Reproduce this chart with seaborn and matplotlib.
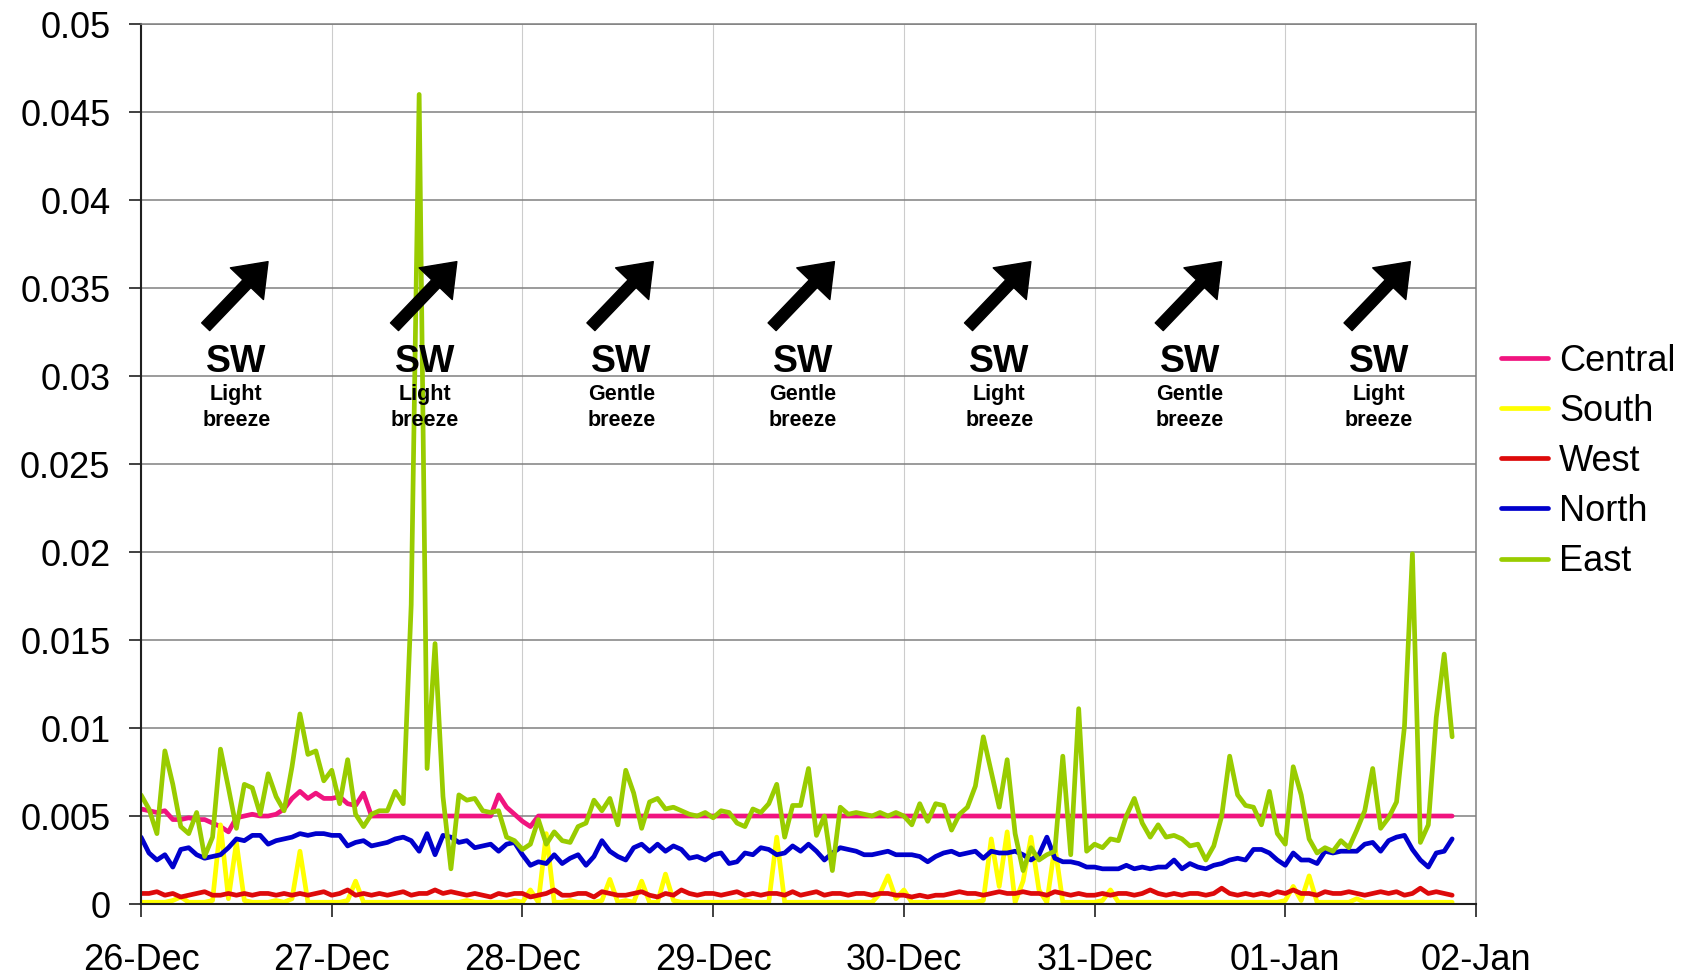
import numpy as np
import pandas as pd
import matplotlib
matplotlib.use("Agg")
import matplotlib.pyplot as plt
import matplotlib.dates as mdates
from matplotlib.lines import Line2D
import seaborn as sns

# hourly readings from 26-Dec 00:00, values in units of 0.001
central = [
    5.4, 5.3, 5.2, 5.3, 4.8, 4.8, 4.9, 4.8, 4.8, 4.6, 4.4, 4.1, 4.9, 5.0, 5.1, 5.0, 5.0, 5.1, 5.4, 6.0, 6.4, 6.0, 6.3, 6.0,
    6.0, 6.1, 5.7, 5.6, 6.3, 5.0, 5.0, 5.0, 5.0, 5.0, 5.0, 5.0, 5.0, 5.0, 5.0, 5.0, 5.0, 5.0, 5.0, 5.0, 5.0, 6.2, 5.5, 5.1,
    4.7, 4.4, 5.0, 5.0, 5.0, 5.0, 5.0, 5.0, 5.0, 5.0, 5.0, 5.0, 5.0, 5.0, 5.0, 5.0, 5.0, 5.0, 5.0, 5.0, 5.0, 5.0, 5.0, 5.0,
    5.0, 5.0, 5.0, 5.0, 5.0, 5.0, 5.0, 5.0, 5.0, 5.0, 5.0, 5.0, 5.0, 5.0, 5.0, 5.0, 5.0, 5.0, 5.0, 5.0, 5.0, 5.0, 5.0, 5.0,
    5.0, 5.0, 5.0, 5.0, 5.0, 5.0, 5.0, 5.0, 5.0, 5.0, 5.0, 5.0, 5.0, 5.0, 5.0, 5.0, 5.0, 5.0, 5.0, 5.0, 5.0, 5.0, 5.0, 5.0,
    5.0, 5.0, 5.0, 5.0, 5.0, 5.0, 5.0, 5.0, 5.0, 5.0, 5.0, 5.0, 5.0, 5.0, 5.0, 5.0, 5.0, 5.0, 5.0, 5.0, 5.0, 5.0, 5.0, 5.0,
    5.0, 5.0, 5.0, 5.0, 5.0, 5.0, 5.0, 5.0, 5.0, 5.0, 5.0, 5.0, 5.0, 5.0, 5.0, 5.0, 5.0, 5.0, 5.0, 5.0, 5.0, 5.0,
]
south = [
    0.1, 0.1, 0.1, 0.1, 0.2, 0.4, 0.1, 0.1, 0.1, 0.2, 4.5, 0.3, 3.5, 0.2, 0.1, 0.1, 0.1, 0.2, 0.1, 0.3, 3.0, 0.1, 0.1, 0.1,
    0.1, 0.1, 0.2, 1.3, 0.1, 0.1, 0.1, 0.1, 0.1, 0.1, 0.1, 0.1, 0.1, 0.1, 0.1, 0.1, 0.1, 0.2, 0.1, 0.1, 0.1, 0.1, 0.1, 0.2,
    0.1, 0.8, 0.1, 4.0, 0.1, 0.1, 0.2, 0.1, 0.1, 0.1, 0.2, 1.4, 0.1, 0.2, 0.1, 1.3, 0.1, 0.1, 1.7, 0.2, 0.1, 0.1, 0.1, 0.1,
    0.1, 0.1, 0.1, 0.1, 0.2, 0.1, 0.1, 0.1, 3.8, 0.1, 0.1, 0.1, 0.1, 0.1, 0.1, 0.1, 0.1, 0.1, 0.1, 0.1, 0.1, 0.6, 1.6, 0.3,
    0.8, 0.1, 0.1, 0.1, 0.1, 0.1, 0.1, 0.1, 0.1, 0.1, 0.2, 3.7, 1.0, 4.1, 0.1, 1.3, 3.8, 0.8, 0.1, 3.3, 0.1, 0.1, 0.1, 0.1,
    0.1, 0.2, 0.8, 0.1, 0.1, 0.1, 0.1, 0.1, 0.1, 0.1, 0.1, 0.1, 0.1, 0.1, 0.1, 0.1, 0.1, 0.1, 0.1, 0.1, 0.1, 0.1, 0.1, 0.1,
    0.2, 1.0, 0.2, 1.6, 0.1, 0.1, 0.1, 0.1, 0.1, 0.3, 0.1, 0.1, 0.1, 0.1, 0.1, 0.1, 0.1, 0.1, 0.1, 0.1, 0.1, 0.1,
]
west = [
    0.6, 0.6, 0.7, 0.5, 0.6, 0.4, 0.5, 0.6, 0.7, 0.5, 0.5, 0.6, 0.5, 0.6, 0.5, 0.6, 0.6, 0.5, 0.6, 0.5, 0.6, 0.5, 0.6, 0.7,
    0.5, 0.6, 0.8, 0.5, 0.6, 0.5, 0.6, 0.5, 0.6, 0.7, 0.5, 0.6, 0.6, 0.8, 0.6, 0.7, 0.6, 0.5, 0.6, 0.5, 0.4, 0.6, 0.5, 0.6,
    0.6, 0.4, 0.5, 0.6, 0.8, 0.5, 0.5, 0.6, 0.6, 0.4, 0.7, 0.6, 0.5, 0.5, 0.6, 0.7, 0.5, 0.4, 0.6, 0.5, 0.8, 0.6, 0.5, 0.6,
    0.6, 0.5, 0.6, 0.7, 0.5, 0.6, 0.5, 0.6, 0.6, 0.5, 0.7, 0.5, 0.6, 0.7, 0.5, 0.6, 0.6, 0.5, 0.6, 0.6, 0.5, 0.6, 0.6, 0.5,
    0.5, 0.4, 0.5, 0.4, 0.5, 0.5, 0.6, 0.7, 0.6, 0.6, 0.5, 0.6, 0.7, 0.6, 0.6, 0.7, 0.6, 0.6, 0.5, 0.7, 0.6, 0.5, 0.6, 0.5,
    0.5, 0.6, 0.5, 0.6, 0.6, 0.5, 0.6, 0.8, 0.6, 0.5, 0.6, 0.5, 0.6, 0.6, 0.5, 0.6, 0.9, 0.6, 0.5, 0.6, 0.5, 0.6, 0.5, 0.7,
    0.6, 0.8, 0.6, 0.6, 0.5, 0.7, 0.6, 0.6, 0.7, 0.6, 0.5, 0.6, 0.7, 0.6, 0.7, 0.5, 0.6, 0.9, 0.6, 0.7, 0.6, 0.5,
]
north = [
    3.8, 2.9, 2.5, 2.8, 2.1, 3.1, 3.2, 2.8, 2.6, 2.7, 2.8, 3.2, 3.7, 3.6, 3.9, 3.9, 3.4, 3.6, 3.7, 3.8, 4.0, 3.9, 4.0, 4.0,
    3.9, 3.9, 3.3, 3.5, 3.6, 3.3, 3.4, 3.5, 3.7, 3.8, 3.6, 3.0, 4.0, 2.8, 3.9, 3.8, 3.5, 3.6, 3.2, 3.3, 3.4, 3.0, 3.4, 3.5,
    2.8, 2.2, 2.4, 2.3, 2.8, 2.3, 2.6, 2.8, 2.2, 2.7, 3.6, 3.0, 2.7, 2.5, 3.2, 3.4, 3.0, 3.4, 3.0, 3.3, 3.1, 2.6, 2.7, 2.5,
    2.8, 2.9, 2.3, 2.4, 2.9, 2.8, 3.2, 3.1, 2.8, 2.9, 3.3, 3.0, 3.4, 3.0, 2.5, 2.9, 3.2, 3.1, 3.0, 2.8, 2.8, 2.9, 3.0, 2.8,
    2.8, 2.8, 2.7, 2.4, 2.7, 2.9, 3.0, 2.8, 2.9, 3.0, 2.6, 3.0, 2.9, 2.9, 3.0, 2.8, 2.5, 2.8, 3.8, 2.6, 2.4, 2.4, 2.3, 2.1,
    2.1, 2.0, 2.0, 2.0, 2.2, 2.0, 2.1, 2.0, 2.1, 2.1, 2.5, 2.0, 2.3, 2.1, 2.0, 2.2, 2.3, 2.5, 2.6, 2.5, 3.1, 3.1, 2.9, 2.5,
    2.2, 2.9, 2.5, 2.5, 2.3, 3.0, 2.9, 3.0, 3.0, 3.0, 3.4, 3.5, 3.0, 3.6, 3.8, 3.9, 3.1, 2.5, 2.1, 2.9, 3.0, 3.7,
]
east = [
    6.2, 5.4, 4.0, 8.7, 6.8, 4.4, 4.0, 5.2, 2.7, 3.8, 8.8, 6.6, 4.3, 6.8, 6.6, 5.1, 7.4, 6.1, 5.3, 7.8, 10.8, 8.5, 8.7, 7.0,
    7.6, 5.7, 8.2, 5.1, 4.4, 5.1, 5.3, 5.3, 6.4, 5.7, 17.0, 46.0, 7.7, 14.8, 6.1, 2.0, 6.2, 5.9, 6.0, 5.3, 5.2, 5.3, 3.8, 3.6,
    3.1, 3.4, 4.8, 3.4, 4.1, 3.6, 3.5, 4.4, 4.6, 5.9, 5.3, 6.0, 4.5, 7.6, 6.3, 4.3, 5.8, 6.0, 5.4, 5.5, 5.3, 5.1, 5.0, 5.2,
    4.9, 5.3, 5.2, 4.6, 4.4, 5.4, 5.2, 5.7, 6.8, 3.8, 5.6, 5.6, 7.7, 3.9, 5.0, 1.9, 5.5, 5.1, 5.2, 5.1, 5.0, 5.2, 5.0, 5.2,
    5.0, 4.5, 5.7, 4.7, 5.7, 5.6, 4.2, 5.1, 5.5, 6.7, 9.5, 7.5, 5.5, 8.2, 4.0, 1.9, 3.2, 2.5, 2.8, 3.0, 8.4, 2.8, 11.1, 3.0,
    3.4, 3.2, 3.7, 3.6, 5.0, 6.0, 4.6, 3.8, 4.5, 3.8, 3.9, 3.7, 3.3, 3.4, 2.5, 3.3, 5.0, 8.4, 6.2, 5.6, 5.5, 4.5, 6.4, 4.0,
    3.4, 7.8, 6.2, 3.7, 2.9, 3.2, 3.0, 3.6, 3.2, 4.2, 5.3, 7.7, 4.3, 4.9, 5.8, 10.1, 19.9, 3.5, 4.5, 10.6, 14.2, 9.5,
]

sites = ["Central", "South", "West", "North", "East"]
colors = ["#F0147F", "#FFFF00", "#DD0A0A", "#0000CC", "#99CC00"]

# wind annotation per day
wind_dir = ["SW", "SW", "SW", "SW", "SW", "SW", "SW"]
wind_text = ["Light\nbreeze", "Light\nbreeze", "Gentle\nbreeze", "Gentle\nbreeze",
             "Light\nbreeze", "Gentle\nbreeze", "Light\nbreeze"]
wind_pos = [0.50, 1.49, 2.52, 3.47, 4.50, 5.50, 6.49]  # days after 26-Dec

start = pd.Timestamp("2009-12-26 00:00")
times = pd.date_range(start, periods=len(east), freq="h")

frames = []
for name, vals in zip(sites, [central, south, west, north, east]):
    frames.append(pd.DataFrame({"time": times, "value": np.array(vals) / 1000.0, "site": name}))
df = pd.concat(frames, ignore_index=True)

sns.set_style("white")
plt.rcParams["font.family"] = ["Liberation Sans", "DejaVu Sans"]
plt.rcParams["text.color"] = "black"

fig = plt.figure(figsize=(16.83, 9.77), dpi=100)
ax = fig.add_axes([0.0838, 0.0747, 0.7932, 0.9007])

sns.lineplot(data=df, x="time", y="value", hue="site", hue_order=sites,
             palette=dict(zip(sites, colors)), linewidth=3.4, errorbar=None,
             legend=False, ax=ax)

ax.set_xlim(mdates.date2num(start), mdates.date2num(start + pd.Timedelta(days=7)))
ax.set_ylim(0, 0.05)
ax.set_yticks(np.arange(0, 0.0501, 0.005))
ax.yaxis.set_major_formatter(matplotlib.ticker.FuncFormatter(lambda v, p: "%g" % round(v, 4)))
ax.xaxis.set_major_locator(mdates.DayLocator())
ax.xaxis.set_major_formatter(mdates.DateFormatter("%d-%b"))
ax.set_xlabel("")
ax.set_ylabel("")

ax.grid(axis="y", color="#808080", linewidth=1.1)
ax.grid(axis="x", color="#CCCCCC", linewidth=0.8)
ax.set_axisbelow(True)
for s in ["left", "bottom"]:
    ax.spines[s].set_color("#202020")
    ax.spines[s].set_linewidth(1.5)
for s in ["top", "right"]:
    ax.spines[s].set_color("#808080")
    ax.spines[s].set_linewidth(1.1)
ax.tick_params(axis="y", direction="out", length=9, width=1.2, pad=13, labelsize=26,
               left=True, color="#202020", labelcolor="black")
ax.tick_params(axis="x", direction="out", length=9, width=1.2, pad=19, labelsize=26,
               bottom=True, color="#202020", labelcolor="black")

for i in range(len(wind_pos)):
    xc = mdates.date2num(start) + wind_pos[i]
    ax.annotate("", xy=(xc + 0.166, 0.0365), xytext=(xc - 0.161, 0.0328),
                arrowprops=dict(arrowstyle="simple,head_length=1.1,head_width=1.65,tail_width=0.4",
                                mutation_scale=20, color="black", shrinkA=0, shrinkB=0))
    ax.text(xc, 0.03078, wind_dir[i], ha="center", va="center", fontsize=27, fontweight="bold")
    ax.text(xc, 0.02822, wind_text[i], ha="center", va="center", fontsize=15.5,
            fontweight="bold", linespacing=1.3)

handles = [Line2D([0], [0], color=c, linewidth=3.4) for c in colors]
ax.legend(handles, sites, loc="center left", bbox_to_anchor=(1.019, 0.503), frameon=False,
          fontsize=26, handlelength=1.3, handletextpad=0.3, labelspacing=0.42,
          borderaxespad=0, borderpad=0)

fig.savefig("out.png", dpi=100)
